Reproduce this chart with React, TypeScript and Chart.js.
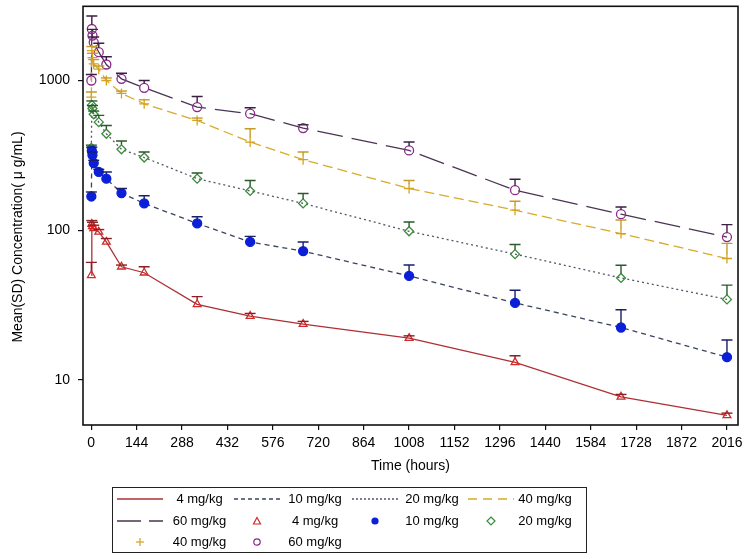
import React, { useEffect, useRef } from 'react';
import { Chart, registerables } from 'chart.js';

Chart.register(...registerables);

// ---- data ----
const times = [0.5, 2, 4, 8, 24, 48, 96, 168, 336, 504, 672, 1008, 1344, 1680, 2016];

const mean4 = [50, 110, 106, 103, 97.5, 83.5, 57, 52, 32, 26.7, 23.6, 19.0, 13.1, 7.7, 5.8];
const sd4 = [11, 6, 7, 5, 3.5, 4.5, 1.5, 5, 4, 1.1, 1.0, 0.7, 1.4, 0.3, 0.2];

const mean10 = [168, 340, 318, 281, 245, 221, 177, 151, 111, 83.5, 72.4, 49.5, 32.7, 22.4, 14.2];
const sd10 = [12, 19, 15, 12, 10, 24, 13, 19, 12, 7.5, 11, 9, 7, 7, 4.3];

const mean20 = [355, 685, 650, 595, 527, 441, 347, 306, 221, 183, 151, 98.4, 69.2, 48, 34.5];
const sd20 = [15, 45, 30, 30, 58, 60, 47, 27, 20, 32, 25, 15, 11, 10.4, 8.5];

const mean40 = [774, 1585, 1420, 1290, 1190, 1000, 820, 699, 541, 388, 296, 190, 136, 95, 64.7];
const sd40 = [63, 100, 100, 90, 60, 40, 30, 44, 20, 88, 37, 25, 20, 22, 17];

const mean60 = [1000, 2208, 1995, 1800, 1545, 1279, 1026, 894, 664, 600, 481, 341, 185, 128, 90];
const sd60 = [96, 490, 200, 150, 228, 163, 93, 106, 117, 58, 25, 47, 34, 15, 19];

const doseLabels = ['4 mg/kg', '10 mg/kg', '20 mg/kg', '40 mg/kg', '60 mg/kg'];
const xTicks = [0, 144, 288, 432, 576, 720, 864, 1008, 1152, 1296, 1440, 1584, 1728, 1872, 2016];
const yTicks = [10, 100, 1000];

// ---- styles ----
const FONT = "'Liberation Sans', Arial, Helvetica, sans-serif";
const styles = [
  { line: '#ad3035', marker: '#d02a2a', err: '#8a1f24', dash: [] as number[], legendDash: '', point: 'triangle', fill: false },
  { line: '#3a4360', marker: '#0b1fd8', err: '#1a1f6a', dash: [5, 4], legendDash: '4 3', point: 'circle', fill: true },
  { line: '#505866', marker: '#3c8a3c', err: '#2a5a2a', dash: [2, 3], legendDash: '2 2', point: 'rectRot', fill: false },
  { line: '#d8aa2a', marker: '#d6a21e', err: '#c49a28', dash: [10, 5], legendDash: '9 6', point: 'cross', fill: false },
  { line: '#4a3552', marker: '#8b2a8b', err: '#3a2040', dash: [26, 9], legendDash: '24 8', point: 'circle', fill: false },
];
const means = [mean4, mean10, mean20, mean40, mean60];
const sds = [sd4, sd10, sd20, sd40, sd60];

const errorBarPlugin = {
  id: 'errorBars',
  afterDatasetsDraw(chart: any) {
    const { ctx } = chart;
    const ys = chart.scales.y;
    chart.data.datasets.forEach((ds: any, i: number) => {
      const meta = chart.getDatasetMeta(i);
      if (!ds.sd) return;
      ctx.save();
      ctx.strokeStyle = ds.errColor;
      ctx.lineWidth = 1.4;
      ctx.setLineDash([]);
      meta.data.forEach((pt: any, j: number) => {
        const top = ys.getPixelForValue(ds.data[j].y + ds.sd[j]);
        const px = pt.x;
        const start = Math.max(pt.y - 4.5, top);
        ctx.beginPath();
        ctx.moveTo(px, start);
        ctx.lineTo(px, top);
        ctx.moveTo(px - 5.5, top);
        ctx.lineTo(px + 5.5, top);
        ctx.stroke();
      });
      ctx.restore();
    });
  },
};

const framePlugin = {
  id: 'frame',
  afterDraw(chart: any) {
    const { ctx, chartArea } = chart;
    ctx.save();
    ctx.strokeStyle = '#111';
    ctx.lineWidth = 1.6;
    ctx.setLineDash([]);
    ctx.strokeRect(chartArea.left, chartArea.top, chartArea.right - chartArea.left, chartArea.bottom - chartArea.top);
    // y title
    ctx.translate(18, 237);
    ctx.rotate(-Math.PI / 2);
    ctx.fillStyle = '#000';
    ctx.font = `14px ${FONT}`;
    ctx.textAlign = 'center';
    ctx.textBaseline = 'middle';
    ctx.fillText('Mean(SD) Concentration( \u03bc g/mL)', 0, 0);
    ctx.restore();
  },
};

function LegendSample({ idx, kind }: { idx: number; kind: 'line' | 'marker' }) {
  const s = styles[idx];
  if (kind === 'line') {
    return (
      <svg width={46} height={10} style={{ display: 'block' }}>
        <line x1={0} y1={5} x2={46} y2={5} stroke={s.line} strokeWidth={1.3} strokeDasharray={s.legendDash || undefined} />
      </svg>
    );
  }
  let shape: any = null;
  const c = s.marker;
  if (s.point === 'triangle') shape = <polygon points="5,1.5 8.5,8 1.5,8" fill="none" stroke={c} strokeWidth={1.2} />;
  else if (s.point === 'circle' && s.fill) shape = <circle cx={5} cy={5} r={3.6} fill={c} />;
  else if (s.point === 'circle') shape = <circle cx={5} cy={5} r={3.2} fill="none" stroke={c} strokeWidth={1.2} />;
  else if (s.point === 'rectRot') shape = <polygon points="5,1 9,5 5,9 1,5" fill="none" stroke={c} strokeWidth={1.2} />;
  else if (s.point === 'cross') shape = (
    <g stroke={c} strokeWidth={1.2}>
      <line x1={5} y1={1} x2={5} y2={9} />
      <line x1={1} y1={5} x2={9} y2={5} />
    </g>
  );
  return (
    <svg width={10} height={10} style={{ display: 'block' }}>
      {shape}
    </svg>
  );
}

const legendItems: { idx: number; kind: 'line' | 'marker' }[] = [
  ...doseLabels.map((_, i) => ({ idx: i, kind: 'line' as const })),
  ...doseLabels.map((_, i) => ({ idx: i, kind: 'marker' as const })),
];
const sampleCenters = [140, 257, 375, 491];
const textCenters = [199.5, 315, 432, 545];
const rowCenters = [499, 520.5, 541.5];

const noPad = (s: any) => {
  s.paddingTop = 0;
  s.paddingBottom = 0;
  s.paddingLeft = 0;
  s.paddingRight = 0;
};

export default function App() {
  const ref = useRef<HTMLCanvasElement | null>(null);

  useEffect(() => {
    document.body.style.margin = '0';
    Chart.defaults.font.family = FONT;
    const datasets = means.map((m, i) => ({
      label: doseLabels[i],
      data: times.map((t, j) => ({ x: t, y: m[j] })),
      sd: sds[i],
      errColor: styles[i].err,
      borderColor: styles[i].line,
      borderWidth: 1.3,
      borderDash: styles[i].dash,
      pointStyle: styles[i].point,
      pointRadius: styles[i].point === 'cross' ? 5 : 4.5,
      pointBorderColor: styles[i].marker,
      pointBackgroundColor: styles[i].fill ? styles[i].marker : 'rgba(255,255,255,0)',
      pointBorderWidth: 1.3,
      tension: 0,
      fill: false,
    }));
    const chart = new Chart(ref.current as HTMLCanvasElement, {
      type: 'line',
      data: { datasets } as any,
      options: {
        responsive: false,
        animation: false,
        devicePixelRatio: 1,
        layout: { padding: { top: 6, right: 12, left: 0, bottom: 79 } },
        plugins: { legend: { display: false }, tooltip: { enabled: false } },
        scales: {
          x: {
            type: 'linear',
            min: -26,
            max: 2051,
            afterBuildTicks: (s: any) => {
              s.ticks = xTicks.map((v) => ({ value: v }));
            },
            afterFit: (s: any) => {
              s.height = 55;
              noPad(s);
            },
            grid: { drawOnChartArea: false, drawTicks: true, tickLength: 5, color: '#111', lineWidth: 1.2 },
            border: { display: false },
            ticks: {
              color: '#000',
              font: { size: 14, family: FONT },
              padding: 5,
              maxRotation: 0,
              autoSkip: false,
              callback: (v: any) => String(v),
            },
            title: {
              display: true,
              text: 'Time (hours)',
              color: '#000',
              font: { size: 14, family: FONT },
              padding: { top: 0, bottom: 5 },
            },
          },
          y: {
            type: 'logarithmic',
            min: 5,
            max: 3130,
            afterBuildTicks: (s: any) => {
              s.ticks = yTicks.map((v) => ({ value: v }));
            },
            afterFit: (s: any) => {
              s.width = 83;
              noPad(s);
            },
            grid: { drawOnChartArea: false, drawTicks: true, tickLength: 5, color: '#111', lineWidth: 1.2 },
            border: { display: false },
            ticks: {
              color: '#000',
              font: { size: 14, family: FONT },
              padding: 8,
              callback: (v: any) => String(v),
            },
          },
        },
      } as any,
      plugins: [errorBarPlugin, framePlugin],
    });
    return () => chart.destroy();
  }, []);

  return (
    <div style={{ position: 'absolute', left: 0, top: 0, width: 750, height: 559, background: '#fff', fontFamily: FONT }}>
      <canvas ref={ref} width={750} height={559} style={{ position: 'absolute', left: 0, top: 0 }} />
      <div
        style={{
          position: 'absolute',
          left: 112,
          top: 487,
          width: 475,
          height: 66,
          border: '1.5px solid #222',
          boxSizing: 'border-box',
        }}
      />
      {legendItems.map((it, k) => {
        const row = Math.floor(k / 4);
        const col = k % 4;
        const w = it.kind === 'line' ? 46 : 10;
        return (
          <React.Fragment key={k}>
            <div style={{ position: 'absolute', left: sampleCenters[col] - w / 2, top: rowCenters[row] - 5 }}>
              <LegendSample idx={it.idx} kind={it.kind} />
            </div>
            <div
              style={{
                position: 'absolute',
                left: textCenters[col] - 50,
                width: 100,
                top: rowCenters[row] - 9,
                height: 18,
                lineHeight: '18px',
                textAlign: 'center',
                fontSize: 13,
                color: '#000',
                whiteSpace: 'nowrap',
              }}
            >
              {doseLabels[it.idx]}
            </div>
          </React.Fragment>
        );
      })}
    </div>
  );
}
